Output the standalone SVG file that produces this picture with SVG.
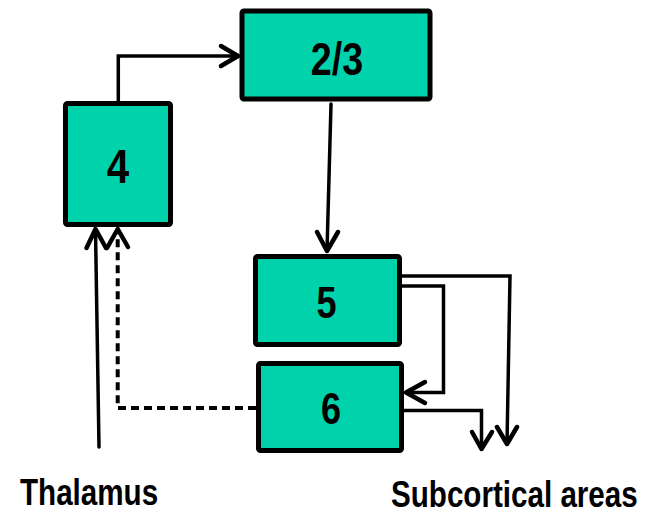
<svg xmlns="http://www.w3.org/2000/svg" width="661" height="514" viewBox="0 0 661 514">
<style>
.box{fill:#00D2AC;stroke:#000;stroke-width:5;}
.lbl{font-family:"Liberation Sans",Arial,sans-serif;font-weight:bold;fill:#000;text-anchor:middle;}
.txt{font-family:"Liberation Sans",Arial,sans-serif;font-weight:bold;fill:#000;font-size:37px;}
.ln{fill:none;stroke:#000;stroke-width:3.5;stroke-linecap:round;stroke-linejoin:miter;}
.hd{fill:none;stroke:#000;stroke-width:4.5;stroke-linecap:round;stroke-linejoin:round;}
.dash{fill:none;stroke:#000;stroke-width:4;stroke-dasharray:8 5;}
</style>
<rect width="661" height="514" fill="#fff"/>
<g id="connectors">
  <polyline class="ln" points="118.3,101 118.3,56 238,56"/>
  <polyline class="hd" points="221,46 238,56 221,66"/>
  <line class="ln" x1="331" y1="104" x2="327" y2="251"/>
  <polyline class="hd" points="317,232 327,251 338,232"/>
  <polyline class="ln" points="402,276 510,276 507,444"/>
  <polyline class="hd" points="497,427 507,444 517,427"/>
  <polyline class="ln" points="402,286 443.5,286 443.5,392.5 406,392.5"/>
  <polyline class="hd" points="425,382 406,392.5 425,403"/>
  <polyline class="ln" points="404,410.5 481.5,410.5 481.5,449"/>
  <polyline class="hd" points="472,432 481.5,449 492,432"/>
  <line class="ln" x1="95.5" y1="230" x2="99" y2="447"/>
  <polyline class="hd" points="86.5,248 95.5,229 106,248"/>
  <polyline class="dash" points="256,408 117.7,408 117.7,232"/>
  <polyline class="hd" points="107,248 117.7,229 128,247"/>
</g>
<g id="node-4">
  <rect class="box" x="65.5" y="103.5" width="105" height="121" rx="2"/>
  <text class="lbl" font-size="49" transform="translate(118,183) scale(0.82,1)">4</text>
</g>
<g id="node-23">
  <rect class="box" x="242" y="11" width="188" height="88" rx="2"/>
  <text class="lbl" font-size="47" transform="translate(337,75) scale(0.8,1)">2/3</text>
</g>
<g id="node-5">
  <rect class="box" x="255.5" y="256.5" width="144" height="88" rx="2"/>
  <text class="lbl" font-size="44" transform="translate(326.5,318) scale(0.82,1)">5</text>
</g>
<g id="node-6">
  <rect class="box" x="258.5" y="363.5" width="143" height="87" rx="2"/>
  <text class="lbl" font-size="44" transform="translate(331,424) scale(0.82,1)">6</text>
</g>
<g id="labels">
  <text class="txt" transform="translate(20,505) scale(0.8,1)">Thalamus</text>
  <text class="txt" transform="translate(391,506.5) scale(0.8,1)">Subcortical areas</text>
</g>
</svg>
